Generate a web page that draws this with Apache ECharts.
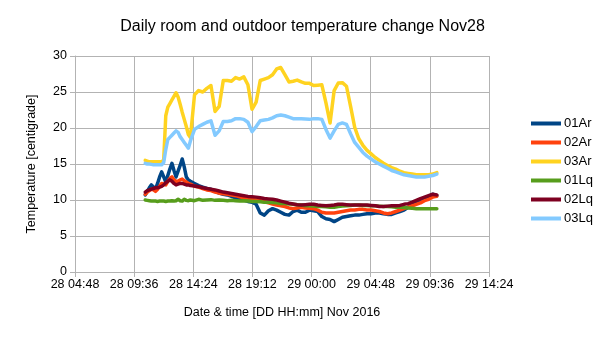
<!DOCTYPE html>
<html>
<head>
<meta charset="utf-8">
<script src="https://cdn.jsdelivr.net/npm/echarts@6/dist/echarts.min.js"></script>
<style>
  html, body { margin: 0; padding: 0; background: #fff; }
  #chart { width: 605px; height: 340px; }
</style>
</head>
<body>
<div id="chart"></div>
<script>
// Sample timestamps, "DD HH:mm" in November 2016
const times = [
  '28 10:30','28 10:40','28 10:50','28 11:00','28 11:10','28 11:20','28 11:30','28 11:40',
  '28 11:50','28 12:00','28 12:10','28 12:20','28 12:30','28 12:40','28 12:50','28 13:00',
  '28 13:10','28 13:20','28 13:30','28 13:40','28 13:50','28 14:00','28 14:10',
  '28 14:30','28 14:50','28 15:10','28 15:30','28 15:50','28 16:10','28 16:30','28 16:50',
  '28 17:10','28 17:30','28 17:50','28 18:10','28 18:30','28 18:50','28 19:10','28 19:30',
  '28 19:50','28 20:10','28 20:30','28 20:50','28 21:10','28 21:30','28 21:50','28 22:10',
  '28 22:30','28 22:50','28 23:10','28 23:30','28 23:50',
  '29 00:10','29 00:30','29 00:50','29 01:10','29 01:30','29 01:50','29 02:10','29 02:30',
  '29 02:50','29 03:10','29 03:30','29 03:50','29 04:10','29 04:30','29 04:50','29 05:10',
  '29 05:30','29 05:50','29 06:10','29 06:30','29 06:50','29 07:10','29 07:30','29 07:50',
  '29 08:10','29 08:30','29 08:50','29 09:10','29 09:30','29 09:50','29 10:10'
];

const s01Ar = [
  10.7, 11.2, 11.7, 12.1, 11.8, 11.5, 12.3, 13.2, 13.9, 13.2, 12.5, 13.4, 14.3, 15.1, 14.1, 13.2,
  14.0, 14.8, 15.7, 14.6, 13.2, 12.8, 12.6,
  12.3, 12.0, 11.8, 11.6, 11.5, 11.2, 10.95, 10.8, 10.7, 10.5, 10.3, 10.1, 10.0, 9.8, 9.7,
  9.4, 8.2, 7.9, 8.5, 8.8, 8.6, 8.3, 8.0, 7.9, 8.4, 8.6, 8.3, 8.3, 8.6,
  8.5, 8.4, 7.7, 7.4, 7.3, 7.0, 7.3, 7.6, 7.7, 7.8, 7.9, 7.9, 8.0, 8.1, 8.1, 8.2,
  8.2, 8.1, 8.0, 8.0, 8.2, 8.4, 8.6, 9.0, 9.3, 9.6, 9.9, 10.2, 10.5, 10.8, 10.6
];
const s02Ar = [
  10.8, 11.1, 11.3, 11.5, 11.4, 11.2, 11.5, 11.9, 12.3, 12.2, 12.1, 12.6, 13.0, 13.2, 12.8, 12.6,
  12.6, 12.8, 12.9, 12.7, 12.5, 12.3, 12.2,
  11.9, 11.8, 11.6, 11.4, 11.3, 11.1, 10.95, 10.85, 10.8, 10.7, 10.6, 10.45, 10.3, 10.2, 10.1,
  10.0, 9.9, 9.75, 9.6, 9.45, 9.3, 9.2, 9.1, 8.9, 8.8, 8.9, 9.0, 8.9, 8.85,
  8.8, 8.6, 8.3, 8.2, 8.2, 8.2, 8.3, 8.4, 8.5, 8.6, 8.6, 8.7, 8.7, 8.6, 8.6, 8.5,
  8.4, 8.2, 8.1, 8.2, 8.4, 8.6, 8.8, 9.0, 9.2, 9.4, 9.6, 9.9, 10.1, 10.4, 10.5
];
const s03Ar = [
  15.5, 15.4, 15.3, 15.3, 15.3, 15.3, 15.3, 15.3, 15.3, 15.6, 21.7, 22.9, 23.4, 23.9, 24.4, 24.9,
  24.3, 23.3, 22.2, 21.2, 20.2, 19.1, 18.7,
  24.6, 25.2, 25.0, 25.5, 25.9, 22.3, 23.0, 26.6, 26.6, 26.5, 27.0, 26.8, 27.1, 26.0, 22.6,
  23.6, 26.6, 26.8, 27.0, 27.4, 28.2, 28.4, 27.4, 26.4, 26.5, 26.65, 26.4, 26.2, 26.2,
  25.9, 25.95, 26.0, 23.5, 20.7, 25.2, 26.25, 26.3, 25.8, 23.0, 20.1, 18.5, 17.6, 16.9, 16.4, 15.9,
  15.5, 15.1, 14.8, 14.5, 14.3, 14.0, 13.8, 13.7, 13.6, 13.5, 13.5, 13.5, 13.5, 13.6, 13.8
];
const s01Lq = [
  10.0, 9.95, 9.9, 9.85, 9.85, 9.85, 9.8, 9.85, 9.85, 9.85, 9.8, 9.85, 9.85, 9.9, 9.85, 9.9,
  10.1, 9.9, 9.85, 10.1, 9.95, 9.9, 10.0,
  9.9, 10.1, 9.95, 10.0, 10.05, 9.95, 10.0, 9.95, 9.9, 9.95, 9.9, 9.85, 9.9, 9.85, 9.8,
  9.8, 9.75, 9.7, 9.7, 9.65, 9.6, 9.5, 9.5, 9.45, 9.4, 9.35, 9.3, 9.2, 9.2,
  9.15, 9.1, 9.1, 9.05, 9.0, 9.0, 9.1, 9.15, 9.2, 9.25, 9.3, 9.3, 9.25, 9.25, 9.2, 9.2,
  9.15, 9.1, 9.1, 9.05, 9.0, 9.0, 8.95, 8.9, 8.85, 8.8, 8.8, 8.8, 8.8, 8.8, 8.8
];
const s02Lq = [
  11.1, 11.3, 11.4, 11.5, 11.6, 11.7, 11.7, 11.8, 11.9, 12.1, 12.4, 12.6, 12.8, 12.6, 12.3, 12.1,
  12.2, 12.3, 12.3, 12.2, 12.1, 12.1, 12.0,
  11.95, 11.85, 11.7, 11.6, 11.5, 11.4, 11.25, 11.1, 11.0, 10.9, 10.8, 10.7, 10.6, 10.5, 10.45,
  10.4, 10.3, 10.2, 10.15, 10.1, 10.0, 9.85, 9.7, 9.55, 9.45, 9.35, 9.3, 9.35, 9.4,
  9.4, 9.3, 9.25, 9.2, 9.25, 9.3, 9.4, 9.4, 9.35, 9.3, 9.3, 9.3, 9.3, 9.3, 9.25, 9.2,
  9.1, 9.1, 9.15, 9.2, 9.2, 9.25, 9.4, 9.5, 9.7, 9.95, 10.2, 10.4, 10.6, 10.8, 10.7
];
const s03Lq = [
  15.1, 15.0, 15.0, 14.95, 14.9, 14.9, 14.9, 14.9, 14.9, 15.2, 17.0, 18.4, 18.7, 19.0, 19.3, 19.6,
  19.4, 18.8, 18.4, 18.0, 17.6, 17.2, 18.2,
  19.8, 20.2, 20.5, 20.8, 21.0, 19.0, 19.6, 20.9, 20.9, 21.0, 21.3, 21.3, 21.2, 20.8, 19.5,
  20.2, 21.0, 21.1, 21.2, 21.4, 21.7, 21.8, 21.7, 21.5, 21.3, 21.3, 21.3, 21.25, 21.2,
  21.3, 21.3, 21.2, 19.8, 18.6, 19.6, 20.5, 20.7, 20.5, 19.2, 18.0, 17.3, 16.6, 16.1, 15.7, 15.3,
  15.0, 14.7, 14.4, 14.1, 13.9, 13.7, 13.5, 13.4, 13.3, 13.2, 13.2, 13.2, 13.3, 13.4, 13.6
];

const seriesNames = ['01Ar', '02Ar', '03Ar', '01Lq', '02Lq', '03Lq'];
const seriesValues = [s01Ar, s02Ar, s03Ar, s01Lq, s02Lq, s03Lq];
const seriesColors = ['#004586', '#ff420e', '#ffd320', '#579d1c', '#7e0021', '#83caff'];

// x axis: minutes since 28 Nov 00:00, ticks every 4h48m
const xMin = 288, xMax = 2304, xStep = 288;

function toMinutes(s) {
  const day = parseInt(s.slice(0, 2), 10);
  const hh = parseInt(s.slice(3, 5), 10);
  const mm = parseInt(s.slice(6, 8), 10);
  return (day - 28) * 1440 + hh * 60 + mm;
}
function pad(n) { return (n < 10 ? '0' : '') + n; }
function fmtTime(v) {
  const m = Math.round(v);
  const day = 28 + Math.floor(m / 1440);
  const r = m - (day - 28) * 1440;
  return day + ' ' + pad(Math.floor(r / 60)) + ':' + pad(r % 60);
}

const xs = times.map(toMinutes);
const font = 'Liberation Sans, Arial, sans-serif';
const gridColor = '#b3b3b3';

const chart = echarts.init(document.getElementById('chart'));
chart.setOption({
  animation: false,
  backgroundColor: '#ffffff',
  title: {
    text: 'Daily room and outdoor temperature change Nov28',
    left: 'center',
    top: 14,
    textStyle: { fontFamily: font, fontSize: 16, fontWeight: 'normal', color: '#000' }
  },
  legend: {
    orient: 'vertical',
    left: 531,
    top: 117,
    padding: 0,
    icon: 'rect',
    itemWidth: 30,
    itemHeight: 4,
    itemGap: 6,
    data: seriesNames,
    textStyle: { fontFamily: font, fontSize: 13, color: '#000', padding: [0, 0, 0, -2] }
  },
  grid: { left: 75, right: 116, top: 56, bottom: 68, containLabel: false },
  xAxis: {
    type: 'value',
    min: xMin,
    max: xMax,
    interval: xStep,
    name: 'Date & time [DD HH:mm] Nov 2016',
    nameLocation: 'middle',
    nameGap: 34,
    nameTextStyle: { fontFamily: font, fontSize: 12.5, color: '#000' },
    axisLine: { show: true, lineStyle: { color: gridColor, width: 1 } },
    axisTick: { show: true, length: 5, lineStyle: { color: gridColor } },
    axisLabel: {
      fontFamily: font, fontSize: 12.5, color: '#000', margin: 6,
      showMinLabel: true, showMaxLabel: true,
      formatter: fmtTime
    },
    splitLine: { show: true, lineStyle: { color: gridColor, width: 1 } }
  },
  yAxis: {
    type: 'value',
    min: 0,
    max: 30,
    interval: 5,
    name: 'Temperature [centigrade]',
    nameLocation: 'middle',
    nameGap: 37,
    nameRotate: 90,
    nameTextStyle: { fontFamily: font, fontSize: 12.5, color: '#000' },
    axisLine: { show: true, lineStyle: { color: gridColor, width: 1 } },
    axisTick: { show: true, length: 5, lineStyle: { color: gridColor } },
    axisLabel: { fontFamily: font, fontSize: 12.5, color: '#000', margin: 8 },
    splitLine: { show: true, lineStyle: { color: gridColor, width: 1 } }
  },
  series: seriesNames.map((name, i) => ({
    name: name,
    type: 'line',
    data: xs.map((x, k) => [x, seriesValues[i][k]]),
    symbol: 'none',
    showSymbol: false,
    color: seriesColors[i],
    lineStyle: { width: 3.5, color: seriesColors[i], cap: 'round', join: 'round' }
  }))
});
</script>
</body>
</html>
